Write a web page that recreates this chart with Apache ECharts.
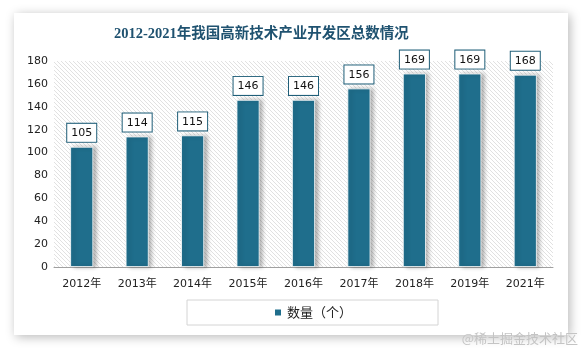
<!DOCTYPE html>
<html>
<head>
<meta charset="utf-8">
<script src="https://cdn.jsdelivr.net/npm/echarts@6/dist/echarts.min.js"></script>
<style>
  html, body { margin: 0; padding: 0; background: #ffffff; }
  #chart { width: 583px; height: 348px; }
</style>
</head>
<body>
<div id="chart"></div>
<script>
// 高新技术产业开发区数量（个）
const years = ['2012年', '2013年', '2014年', '2015年', '2016年', '2017年', '2018年', '2019年', '2021年'];
const counts = [105, 114, 115, 146, 146, 156, 169, 169, 168];
const yTicks = [0, 20, 40, 60, 80, 100, 120, 140, 160, 180];

// diagonal hatch used as the plot background
function hatchPattern() {
  const c = document.createElement('canvas');
  c.width = 4; c.height = 4;
  const g = c.getContext('2d');
  g.fillStyle = '#ffffff';
  g.fillRect(0, 0, 4, 4);
  g.strokeStyle = '#dedede';
  g.lineWidth = 0.9;
  g.beginPath();
  g.moveTo(-1, -1); g.lineTo(5, 5);
  g.moveTo(-1, 3); g.lineTo(1, 5);
  g.moveTo(3, -1); g.lineTo(5, 1);
  g.stroke();
  return c;
}

const chart = echarts.init(document.getElementById('chart'), null, { renderer: 'canvas' });
chart.setOption({
  animation: false,
  backgroundColor: '#ffffff',
  graphic: [
    {
      type: 'rect', z: -10, silent: true,
      shape: { x: 14, y: 13, width: 554, height: 322 },
      style: { fill: '#ffffff', shadowBlur: 10, shadowColor: 'rgba(0,0,0,0.28)', shadowOffsetX: 2, shadowOffsetY: 2 }
    },
    {
      type: 'text', right: 5, top: 332, silent: true,
      style: { text: '@稀土掘金技术社区', fill: '#c4c4c4', font: '13px "Noto Sans CJK SC"' }
    }
  ],
  title: {
    text: '2012-2021年我国高新技术产业开发区总数情况',
    left: 114, top: 27, padding: 0,
    textStyle: { color: '#1f5270', fontSize: 14.5, fontWeight: 'bold', fontFamily: '"Liberation Serif", "Noto Sans CJK SC", serif' }
  },
  legend: {
    left: 187, top: 300,
    padding: [6, 86],
    borderColor: '#d4d4d4', borderWidth: 1,
    itemWidth: 8, itemHeight: 8, itemGap: 5,
    icon: 'rect',
    textStyle: { fontSize: 13, color: '#222', fontFamily: '"Noto Sans CJK SC", sans-serif' },
    data: ['数量（个）']
  },
  grid: {
    left: 54, right: 30, top: 61, bottom: 81,
    show: true, borderWidth: 0,
    backgroundColor: { image: hatchPattern(), repeat: 'repeat' }
  },
  xAxis: {
    type: 'category', data: years,
    axisLine: { lineStyle: { color: '#a0a0a0' } },
    axisTick: { show: false },
    axisLabel: { color: '#222', fontSize: 11, margin: 12, fontFamily: '"DejaVu Sans", "Noto Sans CJK SC", sans-serif' }
  },
  yAxis: {
    type: 'value', min: yTicks[0], max: yTicks[yTicks.length - 1], interval: 20,
    axisLine: { show: false }, axisTick: { show: false }, splitLine: { show: false },
    axisLabel: { color: '#222', fontSize: 11, margin: 6, fontFamily: '"DejaVu Sans", sans-serif' }
  },
  series: [{
    name: '数量（个）', type: 'bar', data: counts, barWidth: 23,
    itemStyle: {
      color: '#1f6e8c', borderColor: '#ffffff', borderWidth: 0.8,
      shadowColor: 'rgba(0,0,0,0.3)', shadowBlur: 4, shadowOffsetX: 3, shadowOffsetY: 0
    },
    label: {
      show: true, position: 'top', distance: 5,
      color: '#111', fontSize: 11, fontFamily: '"DejaVu Sans", sans-serif',
      backgroundColor: '#ffffff', borderColor: '#1f5e78', borderWidth: 1,
      padding: [4, 4, 3, 4]
    }
  }]
});
</script>
</body>
</html>
